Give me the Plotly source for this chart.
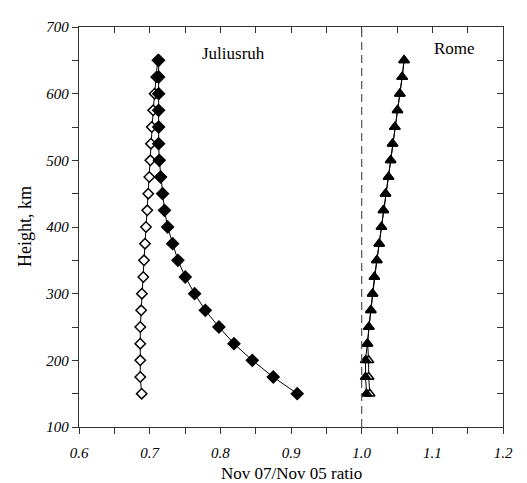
import plotly.graph_objects as go

heights = [150, 175, 200, 225, 250, 275, 300, 325, 350, 375, 400,
           425, 450, 475, 500, 525, 550, 575, 600, 625, 650]

juliusruh_open = [0.6887, 0.6867, 0.6867, 0.6867, 0.6867, 0.6880, 0.6890,
                  0.6910, 0.6920, 0.6934, 0.6948, 0.6966, 0.6980, 0.6995,
                  0.7010, 0.7018, 0.7030, 0.7050, 0.7070, 0.7094, 0.7113]
juliusruh_filled = [0.9088, 0.8749, 0.8452, 0.8193, 0.7980, 0.7787, 0.7636,
                    0.7504, 0.7400, 0.7325, 0.7254, 0.7210, 0.7183, 0.7155,
                    0.7136, 0.7127, 0.7127, 0.7127, 0.7127, 0.7127, 0.7127]
rome_open = [1.0115, 1.0100, 1.0098, 1.0085, 1.0102, 1.0130, 1.0154,
             1.0180, 1.0215, 1.0248, 1.0280, 1.0308, 1.0338, 1.0380,
             1.0410, 1.0437, 1.0470, 1.0507, 1.0540, 1.0573, 1.0600]
rome_filled = [1.0069, 1.0055, 1.0055, 1.0078, 1.0102, 1.0130, 1.0154,
               1.0180, 1.0215, 1.0248, 1.0280, 1.0308, 1.0338, 1.0380,
               1.0410, 1.0437, 1.0470, 1.0507, 1.0540, 1.0573, 1.0600]

x_range = [0.6, 1.2]
y_range = [100, 700]
ref_ratio = 1.0

serif = "Liberation Serif"
axis_col = "#333333"

fig = go.Figure()

def add_series(x, marker_symbol, fill, size):
    fig.add_trace(go.Scatter(
        x=x, y=heights, mode="lines+markers",
        line=dict(color="black", width=1),
        marker=dict(symbol=marker_symbol, size=size, color=fill,
                    line=dict(color="black", width=1.5)),
        showlegend=False, hoverinfo="skip"))

add_series(juliusruh_open, "diamond", "white", 8)
add_series(juliusruh_filled, "diamond", "black", 9)
add_series(rome_open, "triangle-up", "white", 9)
add_series(rome_filled, "triangle-up", "black", 9)

# invisible trace on mirror axes so they render
fig.add_trace(go.Scatter(x=[x_range[0]], y=[y_range[0]], xaxis="x2", yaxis="y2",
                         mode="markers", marker=dict(opacity=0),
                         showlegend=False, hoverinfo="skip"))

fig.add_shape(type="line", xref="x", yref="paper", x0=ref_ratio, x1=ref_ratio,
              y0=0, y1=1, line=dict(color="#555555", width=1.2, dash="8px,5px"))

fig.add_annotation(x=0.818, y=660, text="Juliusruh", showarrow=False,
                   font=dict(family=serif, size=17, color="black"))
fig.add_annotation(x=1.132, y=668, text="Rome", showarrow=False,
                   font=dict(family=serif, size=17, color="black"))

# axis titles
fig.add_annotation(xref="paper", yref="paper", x=0.5, y=0, yanchor="middle",
                   yshift=-46, text="Nov 07/Nov 05 ratio", showarrow=False,
                   font=dict(family=serif, size=17, color="black"))
fig.add_annotation(xref="paper", yref="paper", x=0, y=0.5, xanchor="center",
                   xshift=-54, textangle=-90, text="Height, km", showarrow=False,
                   font=dict(family=serif, size=18, color="black"))

tickfont = dict(family=serif, size=15, color="black", style="italic")

fig.update_layout(
    width=519, height=475,
    margin=dict(l=71, r=24, t=11, b=56),
    paper_bgcolor="white", plot_bgcolor="white",
    xaxis=dict(range=x_range, dtick=0.1, tickformat=".1f", ticks="outside",
               ticklen=6, tickcolor=axis_col, showline=True, linecolor=axis_col,
               linewidth=1.3, showgrid=False, zeroline=False, tickfont=tickfont,
               ticklabelstandoff=6,
               minor=dict(dtick=0.05, ticks="outside", ticklen=6, tickcolor=axis_col)),
    yaxis=dict(range=y_range, dtick=100, ticks="outside", ticklen=6,
               tickcolor=axis_col, showline=True, linecolor=axis_col,
               linewidth=1.3, showgrid=False, zeroline=False, tickfont=tickfont,
               minor=dict(dtick=50, ticks="outside", ticklen=6, tickcolor=axis_col)),
    xaxis2=dict(range=x_range, overlaying="x", side="top", dtick=0.05,
                ticks="inside", ticklen=6, tickcolor=axis_col, showline=True,
                linecolor=axis_col, linewidth=1.3, showticklabels=False,
                showgrid=False, zeroline=False),
    yaxis2=dict(range=y_range, overlaying="y", side="right", dtick=50,
                ticks="inside", ticklen=6, tickcolor=axis_col, showline=True,
                linecolor=axis_col, linewidth=1.3, showticklabels=False,
                showgrid=False, zeroline=False),
)

fig.write_html("out.html")
